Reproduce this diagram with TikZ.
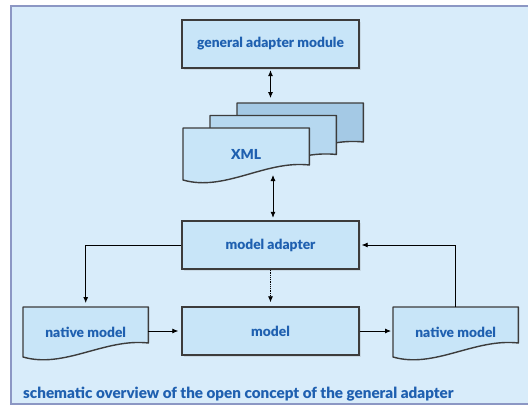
\documentclass[tikz,border=0pt]{standalone}
\usepackage{fontspec}
\setmainfont{Lato}[BoldFont={Lato Black}]
\usetikzlibrary{calc,arrows.meta,shadows}
\definecolor{bgblue}{HTML}{D8ECFA}
\definecolor{boxblue}{HTML}{C8E5F8}
\definecolor{midsheet}{HTML}{B6D8F0}
\definecolor{backsheet}{HTML}{A4C9E5}
\definecolor{txtblue}{HTML}{1F60B0}
\definecolor{frameblue}{HTML}{8C97C4}
\definecolor{edgegray}{HTML}{3C3C3C}
\pgfdeclarelayer{backlayer}
\pgfdeclarelayer{shapelayer}
\pgfsetlayers{backlayer,shapelayer,main}
\tikzset{
  lbl/.style={font=\fontsize{13.8}{15}\selectfont\bfseries, text=txtblue},
  caplbl/.style={font=\fontsize{15.2}{17}\selectfont\bfseries, text=txtblue},
  boxnode/.style={lbl, rectangle, draw=edgegray, line width=1.4pt, fill=boxblue,
    minimum width=177pt, minimum height=48pt, inner sep=0pt,
    drop shadow={shadow xshift=1.5pt, shadow yshift=-1.5pt, opacity=0.18}},
  docnode/.style={lbl, rectangle, minimum width=125pt, minimum height=50pt, inner sep=0pt},
  docline/.style={draw=edgegray, line width=1.4pt, line join=round},
  link/.style={-{Latex[length=6pt,width=5pt]}, line width=0.8pt, black},
  dlink/.style={{Latex[length=6pt,width=5pt]}-{Latex[length=6pt,width=5pt]}, line width=0.8pt, black},
}
% document shape: #1 node, #2 fill, #3 left height, #4 right height
\newcommand\docshape[4]{%
  \path[docline, fill=#2]
    (#1.north west) -- (#1.north east) -- ($(#1.north east)+(0,#4)$)
    .. controls ($(#1.north west)!0.65!(#1.north east)+(0,#4-5)$)
       and ($(#1.north west)!0.33!(#1.north east)+(0,#3+12)$)
    .. ($(#1.north west)+(0,#3)$) -- cycle;
}
\begin{document}
\begin{tikzpicture}[x=1pt,y=-1pt]
\useasboundingbox (0,0) rectangle (528,407);
% frame
\begin{pgfonlayer}{backlayer}
  \draw[frameblue, fill=bgblue, line width=1.5pt] (11,6) rectangle (540,404);
\end{pgfonlayer}

% rectangular boxes
\node[boxnode] (gam) at (270.5,44) {general adapter module};
\node[boxnode] (ma) at (270.5,245) {model adapter};
\node[boxnode] (model) at (270.5,331) {model};

% XML stack
\node[docnode, minimum width=126pt, minimum height=52pt, anchor=north west] (xmlback) at (237,103) {};
\node[docnode, minimum width=126pt, minimum height=52pt, anchor=north west] (xmlmid) at (210,115.5) {};
\node[docnode, minimum width=126pt, minimum height=52pt, anchor=north west] (xml) at (183,128) {XML};
\coordinate (xmlout) at (273,175);

% native models
\node[docnode, anchor=north west] (nl) at (23,307) {native model};
\node[docnode, anchor=north west] (nr) at (393,307) {native model};

\begin{pgfonlayer}{shapelayer}
  \docshape{xmlback}{backsheet}{52}{39}
  \docshape{xmlmid}{midsheet}{52}{39}
  \docshape{xml}{boxblue}{52}{37}
  \docshape{nl}{boxblue}{50}{36}
  \docshape{nr}{boxblue}{50}{36}
\end{pgfonlayer}

% connectors
\draw[dlink, shorten <=1.5pt, shorten >=5pt] (gam.south) -- (gam.south |- xmlback.north);
\draw[dlink, shorten >=2.5pt] (xmlout) -- (xmlout |- ma.north);
\draw[link, shorten >=4pt] (ma.west) -| (nl.north);
\draw[link, shorten >=2pt] (nr.north) |- (ma.east);
\draw[link, densely dotted, shorten >=4pt] (ma.south) -- (model.north);
\draw[link, shorten >=3pt] (nl.east |- model.west) -- (model.west);
\draw[link, shorten >=2pt] (model.east) -- (nr.west |- model.east);

% caption
\node[caplbl, anchor=base west, inner sep=0pt] (cap) at (23,398) {schematic overview of the open concept of the general adapter};
\end{tikzpicture}
\end{document}
